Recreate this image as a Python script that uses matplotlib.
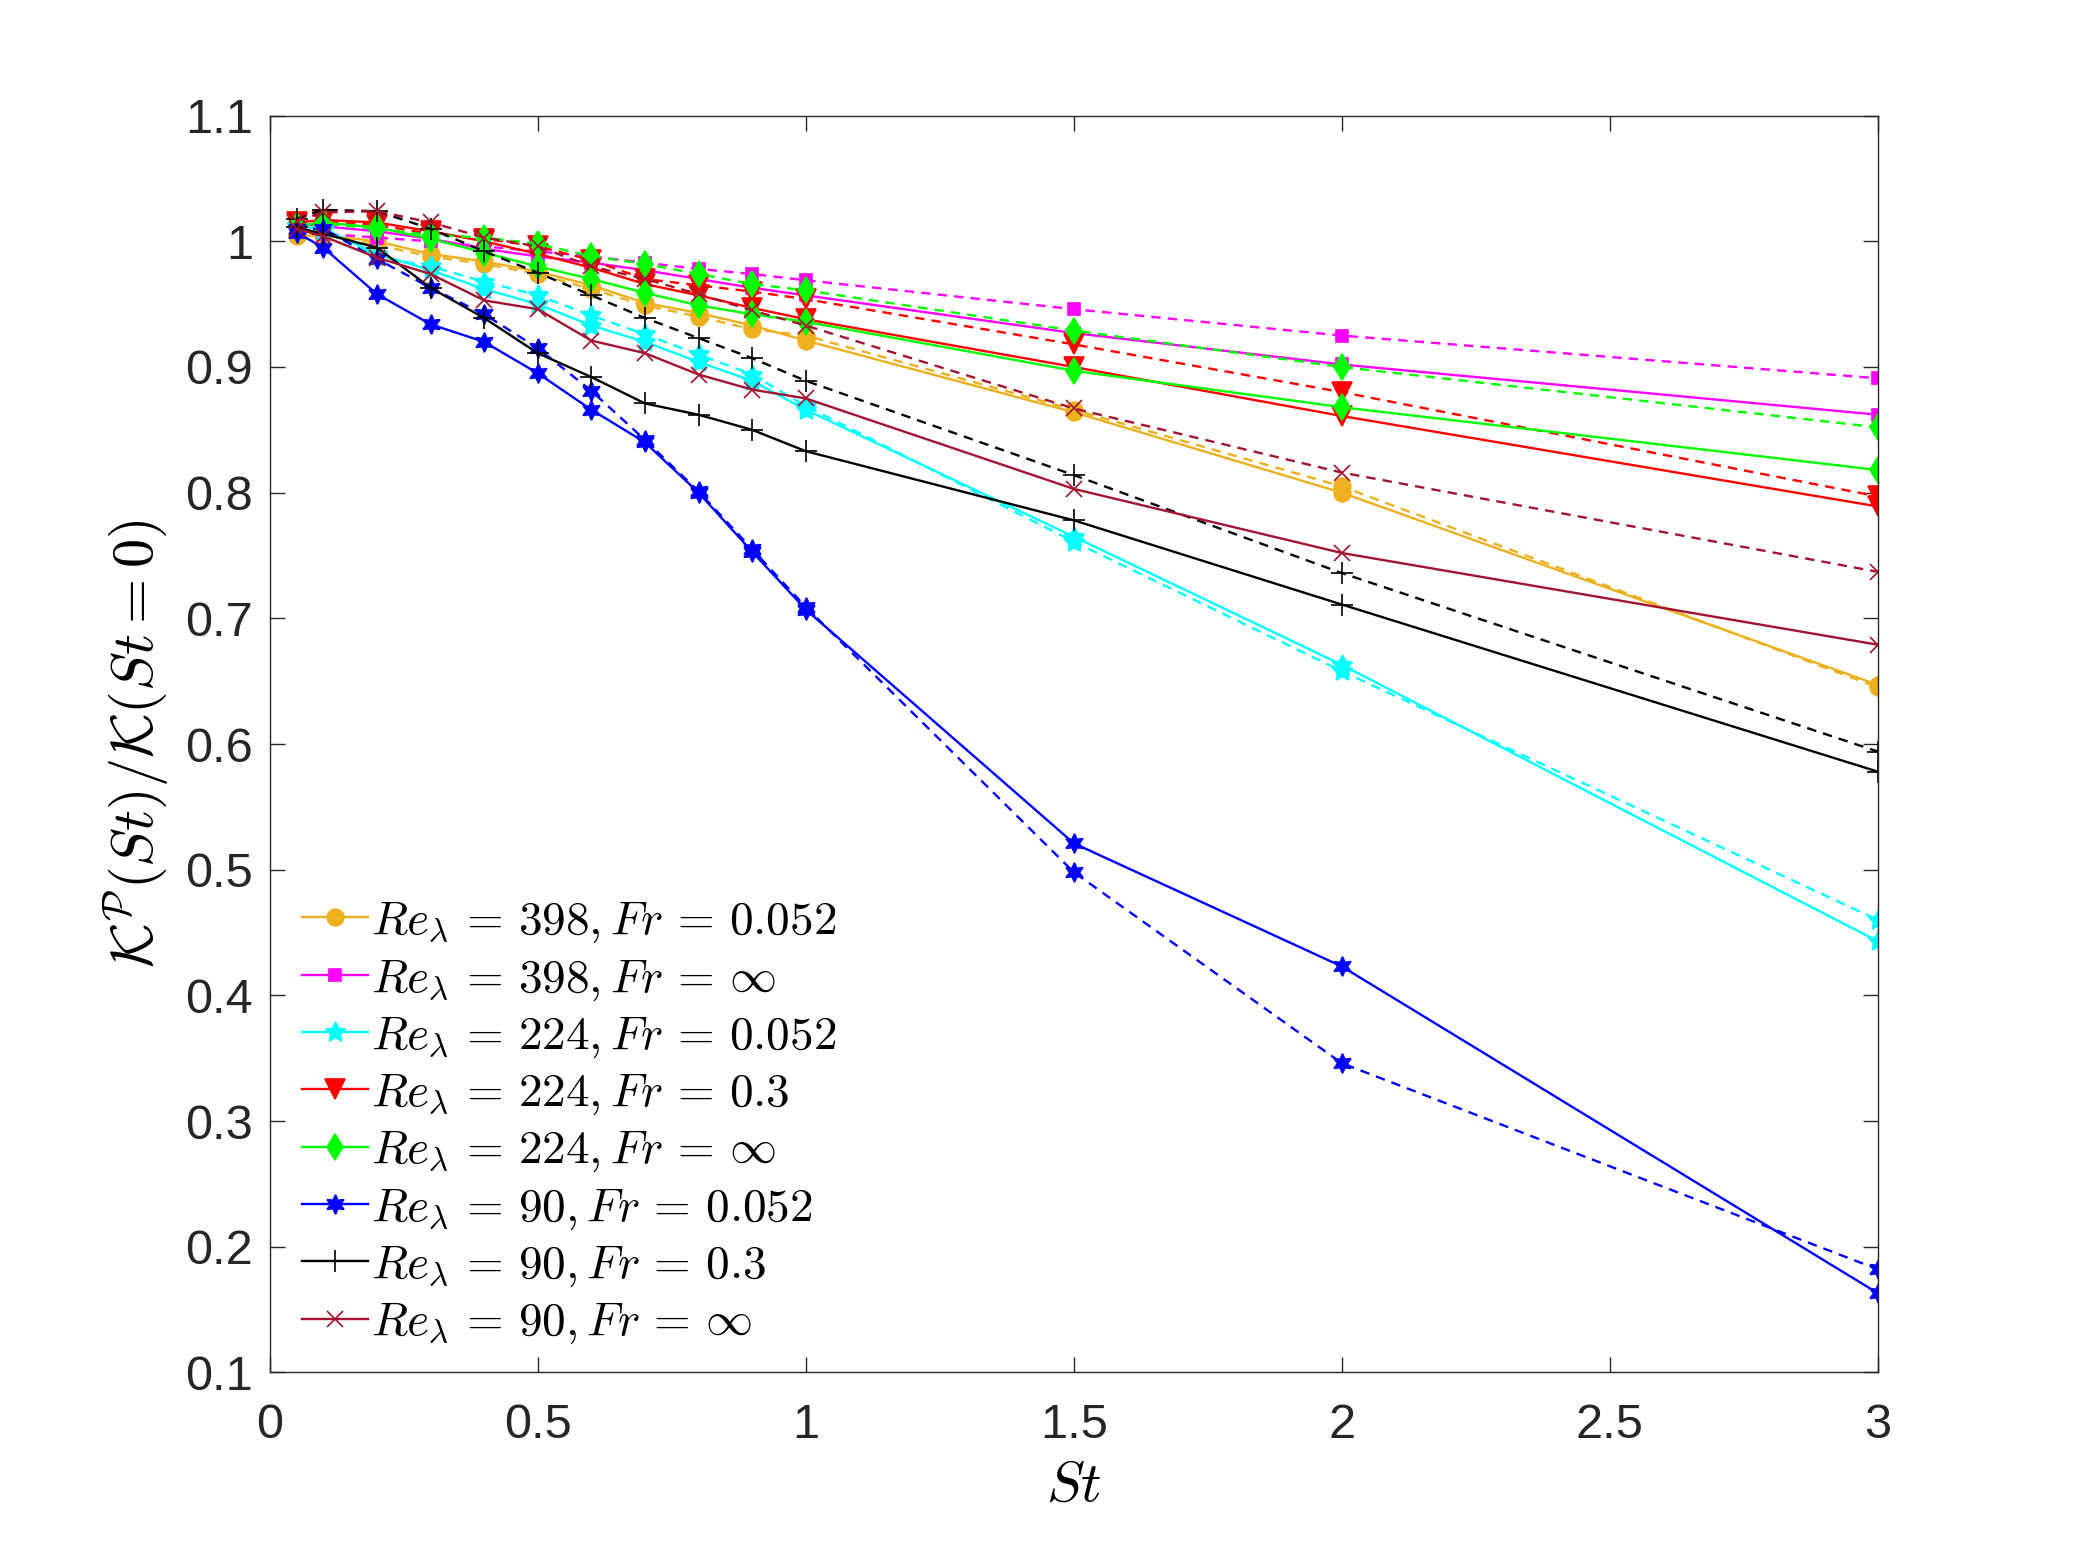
import matplotlib

matplotlib.use("Agg")

import matplotlib.pyplot as plt
from matplotlib.ticker import FormatStrFormatter

plt.rcParams["mathtext.fontset"] = "cm"
plt.rcParams["font.family"] = ["Liberation Sans", "DejaVu Sans"]

St = [0.05, 0.1, 0.2, 0.3, 0.4, 0.5, 0.6, 0.7, 0.8, 0.9, 1.0, 1.5, 2.0, 3.0]

# solid lines (in legend)
re398_fr0052 = [1.004, 1.005, 1.000, 0.990, 0.984, 0.976, 0.965, 0.951, 0.943, 0.933, 0.921, 0.864, 0.800, 0.647]
re398_frinf = [1.014, 1.012, 1.008, 1.002, 0.994, 0.988, 0.983, 0.977, 0.970, 0.963, 0.957, 0.927, 0.902, 0.862]
re224_fr0052 = [1.012, 1.010, 0.990, 0.977, 0.962, 0.950, 0.933, 0.920, 0.904, 0.889, 0.866, 0.765, 0.663, 0.443]
re224_fr03 = [1.015, 1.017, 1.015, 1.008, 1.000, 0.990, 0.979, 0.966, 0.957, 0.947, 0.938, 0.900, 0.861, 0.789]
re224_frinf = [1.012, 1.015, 1.011, 1.002, 0.991, 0.980, 0.970, 0.959, 0.949, 0.942, 0.936, 0.897, 0.868, 0.818]
re90_fr0052 = [1.007, 0.995, 0.958, 0.934, 0.920, 0.895, 0.866, 0.840, 0.800, 0.753, 0.707, 0.521, 0.423, 0.163]
re90_fr03 = [1.011, 1.006, 0.995, 0.963, 0.939, 0.911, 0.892, 0.871, 0.862, 0.850, 0.833, 0.778, 0.711, 0.578]
re90_frinf = [1.010, 1.004, 0.987, 0.974, 0.953, 0.946, 0.921, 0.911, 0.894, 0.882, 0.875, 0.803, 0.752, 0.679]

# dashed lines (not in legend)
re398_fr0052_d = [1.006, 1.006, 0.997, 0.988, 0.982, 0.974, 0.962, 0.949, 0.940, 0.930, 0.925, 0.866, 0.805, 0.645]
re398_frinf_d = [1.010, 1.006, 1.003, 1.000, 0.996, 0.992, 0.988, 0.983, 0.978, 0.974, 0.969, 0.946, 0.925, 0.891]
re224_fr0052_d = [1.012, 1.008, 0.988, 0.980, 0.968, 0.957, 0.941, 0.926, 0.910, 0.894, 0.869, 0.761, 0.658, 0.460]
re224_fr03_d = [1.014, 1.016, 1.013, 1.006, 1.002, 0.996, 0.985, 0.970, 0.965, 0.960, 0.954, 0.918, 0.880, 0.797]
re224_frinf_d = [1.012, 1.014, 1.010, 1.005, 1.003, 0.998, 0.988, 0.982, 0.974, 0.966, 0.961, 0.929, 0.900, 0.852]
re90_fr0052_d = [1.010, 1.010, 0.986, 0.963, 0.942, 0.915, 0.881, 0.842, 0.801, 0.755, 0.709, 0.498, 0.346, 0.182]
re90_fr03_d = [1.018, 1.025, 1.024, 1.010, 0.992, 0.975, 0.957, 0.939, 0.923, 0.907, 0.889, 0.814, 0.736, 0.594]
re90_frinf_d = [1.016, 1.023, 1.024, 1.015, 1.003, 0.996, 0.980, 0.970, 0.958, 0.945, 0.933, 0.867, 0.816, 0.737]

labels = [
    r"$Re_\lambda \,=\, 398, Fr \,=\, 0.052$",
    r"$Re_\lambda \,=\, 398, Fr \,=\, \infty$",
    r"$Re_\lambda \,=\, 224, Fr \,=\, 0.052$",
    r"$Re_\lambda \,=\, 224, Fr \,=\, 0.3$",
    r"$Re_\lambda \,=\, 224, Fr \,=\, \infty$",
    r"$Re_\lambda \,=\, 90, Fr \,=\, 0.052$",
    r"$Re_\lambda \,=\, 90, Fr \,=\, 0.3$",
    r"$Re_\lambda \,=\, 90, Fr \,=\, \infty$",
]
solid = [re398_fr0052, re398_frinf, re224_fr0052, re224_fr03,
         re224_frinf, re90_fr0052, re90_fr03, re90_frinf]
dashed = [re398_fr0052_d, re398_frinf_d, re224_fr0052_d, re224_fr03_d,
          re224_frinf_d, re90_fr0052_d, re90_fr03_d, re90_frinf_d]

colors = ["#EDB120", "#FF00FF", "#00FFFF", "#FF0000", "#00FF00", "#0000FF", "#000000", "#A2142F"]
markers = ["o", "s", (5, 1, 0), "v", "d", (6, 1, 0), "+", "x"]
msizes = [12, 8, 15, 14, 13, 14, 16, 11]

fig = plt.figure(figsize=(20.75, 15.42), dpi=100)
ax = fig.add_axes([0.13, 0.11, 0.775, 0.815])

for i in range(8):
    ax.plot(St, solid[i], "-", color=colors[i], marker=markers[i], ms=msizes[i],
            lw=1.7, mew=1.2, label=labels[i])
    ax.plot(St, dashed[i], "--", color=colors[i], marker=markers[i], ms=msizes[i],
            lw=1.7, mew=1.2, dashes=(4, 3))

ax.set_xlim(0, 3)
ax.set_ylim(0.1, 1.1)
ax.set_xticks([0, 0.5, 1, 1.5, 2, 2.5, 3])
ax.set_yticks([0.1, 0.2, 0.3, 0.4, 0.5, 0.6, 0.7, 0.8, 0.9, 1.0, 1.1])
ax.xaxis.set_major_formatter(FormatStrFormatter("%g"))
ax.yaxis.set_major_formatter(FormatStrFormatter("%g"))
ax.tick_params(direction="in", top=True, right=True, length=11, width=1.0,
               labelsize=35, colors="#262626")
ax.tick_params(axis="x", pad=22)
ax.tick_params(axis="y", pad=12)
for s in ax.spines.values():
    s.set_color("#262626")
    s.set_linewidth(1.0)

ax.set_xlabel(r"$St$", fontsize=41, labelpad=8)
ax.set_ylabel(r"$\mathcal{K}^{\mathcal{P}}(St)/\mathcal{K}(St=0)$", fontsize=42, labelpad=10)

ax.legend(loc="lower left", bbox_to_anchor=(0.004, 0.0), frameon=False, fontsize=34,
          handlelength=1.4, handletextpad=0.05, labelspacing=0.25, borderaxespad=0.15)

fig.savefig("out.png", dpi=100, facecolor="white")
